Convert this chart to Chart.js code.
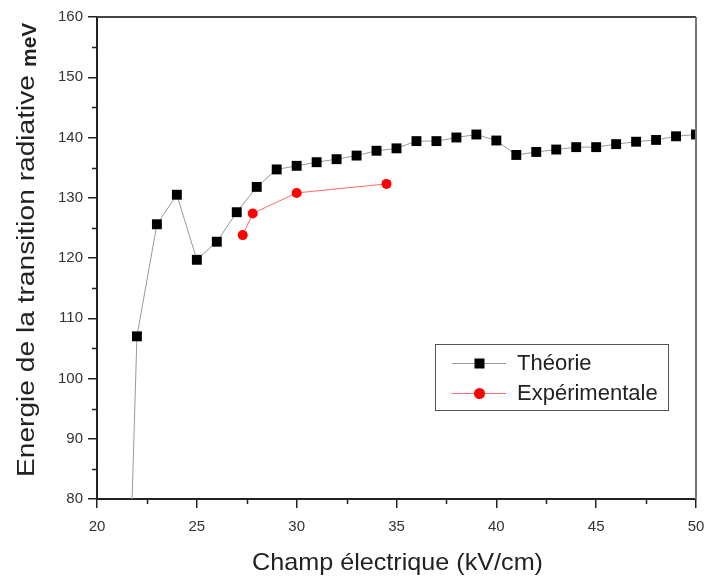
<!DOCTYPE html>
<html>
<head>
<meta charset="utf-8">
<script src="https://cdn.jsdelivr.net/npm/chart.js@4"></script>
<style>
  body { margin: 0; background: #fff; }
  canvas { display: block; }
</style>
</head>
<body>
<canvas id="chart" width="704" height="578"></canvas>
<script>
// Théorie (first point lies below the axis, only its line is visible)
const theoryX = [21, 22, 23, 24, 25, 26, 27, 28, 29, 30, 31, 32, 33, 34, 35, 36, 37, 38, 39, 40, 41, 42, 43, 44, 45, 46, 47, 48, 49, 50]
const theoryY = [-5, 107, 125.6, 130.5, 119.7, 122.7, 127.6, 131.8, 134.7, 135.3, 135.9, 136.4, 137.0, 137.8, 138.2, 139.4, 139.4, 140.0, 140.5, 139.5, 137.1, 137.6, 138.0, 138.4, 138.4, 138.9, 139.3, 139.6, 140.2, 140.5]

// Expérimentale
const expX = [27.3, 27.8, 30, 34.5]
const expY = [123.8, 127.4, 130.8, 132.3]

const xTicks = [20, 25, 30, 35, 40, 45, 50]
const yTicks = [80, 90, 100, 110, 120, 130, 140, 150, 160]
const seriesNames = ['Théorie', 'Expérimentale']

const FONT = '"Liberation Sans", Arial, sans-serif'

const toPoints = (xs, ys) => xs.map((x, i) => ({ x: x, y: ys[i] }))

// fills text, squeezed or stretched horizontally to a given width
const fitText = (ctx, text, x, y, width) => {
  const w = ctx.measureText(text).width
  ctx.save()
  ctx.translate(x, y)
  ctx.scale(width / w, 1)
  ctx.fillText(text, 0, 0)
  ctx.restore()
}

const decorations = {
  id: 'decorations',
  afterDatasetsDraw(chart) {
    const ctx = chart.ctx
    const a = chart.chartArea
    const xs = chart.scales.x
    const ys = chart.scales.y

    ctx.save()
    // top and right frame
    ctx.lineWidth = 2
    ctx.strokeStyle = '#444'
    ctx.beginPath()
    ctx.moveTo(a.left, a.top)
    ctx.lineTo(a.right, a.top)
    ctx.stroke()
    ctx.strokeStyle = '#777'
    ctx.beginPath()
    ctx.moveTo(a.right, a.top)
    ctx.lineTo(a.right, a.bottom)
    ctx.stroke()

    // minor ticks
    ctx.strokeStyle = '#222'
    ctx.lineWidth = 1.5
    ctx.beginPath()
    for (let v = 85; v < 160; v += 10) {
      const p = Math.round(ys.getPixelForValue(v)) + 0.5
      ctx.moveTo(a.left, p)
      ctx.lineTo(a.left - 5, p)
    }
    for (let v = 22.5; v < 50; v += 5) {
      const p = Math.round(xs.getPixelForValue(v)) + 0.5
      ctx.moveTo(p, a.bottom)
      ctx.lineTo(p, a.bottom + 5)
    }
    ctx.stroke()

    // legend box
    const bx = 435.5, by = 344.5, bw = 233, bh = 66
    ctx.fillStyle = '#fff'
    ctx.fillRect(bx, by, bw, bh)
    ctx.strokeStyle = '#555'
    ctx.lineWidth = 1
    ctx.strokeRect(bx, by, bw, bh)

    const rows = [363, 393]
    chart.data.datasets.forEach((ds, i) => {
      const y = rows[i]
      ctx.strokeStyle = ds.borderColor
      ctx.lineWidth = 1
      ctx.beginPath()
      ctx.moveTo(452, y + 0.5)
      ctx.lineTo(506, y + 0.5)
      ctx.stroke()
      ctx.fillStyle = ds.pointBackgroundColor
      if (i === 0) {
        ctx.fillRect(474.5, y - 4.5, 10, 10)
      } else {
        ctx.beginPath()
        ctx.arc(479.5, y + 0.5, 5.5, 0, Math.PI * 2)
        ctx.fill()
      }
      ctx.fillStyle = '#222'
      ctx.font = '22px ' + FONT
      ctx.textBaseline = 'middle'
      ctx.textAlign = 'left'
      ctx.fillText(seriesNames[i], 517, y + 1)
    })

    // axis titles
    ctx.fillStyle = '#222'
    ctx.textBaseline = 'alphabetic'
    ctx.textAlign = 'left'
    ctx.font = '24px ' + FONT
    fitText(ctx, 'Champ électrique (kV/cm)', 252, 570, 291)

    ctx.save()
    ctx.translate(34, 477)
    ctx.rotate(-Math.PI / 2)
    ctx.font = '23px ' + FONT
    fitText(ctx, 'Energie de la transition radiative', 0, 0, 402)
    ctx.font = 'bold 21px ' + FONT
    ctx.fillText('meV', 410, 2)
    ctx.restore()

    ctx.restore()
  }
}

const data = {
  datasets: [{
    label: seriesNames[0],
    data: toPoints(theoryX, theoryY),
    showLine: true,
    borderColor: '#9a9a9a',
    borderWidth: 1,
    pointStyle: 'rect',
    pointRadius: 7,
    pointBackgroundColor: '#000',
    pointBorderColor: '#000',
    pointBorderWidth: 0
  }, {
    label: seriesNames[1],
    data: toPoints(expX, expY),
    showLine: true,
    borderColor: '#ff6a6a',
    borderWidth: 1,
    pointStyle: 'circle',
    pointRadius: 5,
    pointBackgroundColor: '#ff0000',
    pointBorderColor: '#ff0000',
    pointBorderWidth: 0
  }]
}

const ctx = document.getElementById('chart').getContext('2d')

new Chart(ctx, {
  type: 'scatter',
  data: data,
  plugins: [decorations],
  options: {
    responsive: false,
    animation: false,
    layout: { padding: { top: 17, right: 8, left: 0, bottom: 0 } },
    plugins: {
      legend: { display: false },
      tooltip: { enabled: false }
    },
    scales: {
      x: {
        type: 'linear',
        min: 20,
        max: 50,
        afterFit: scale => {
          scale.height = 79
          scale.paddingLeft = 0
          scale.paddingRight = 0
        },
        afterBuildTicks: scale => { scale.ticks = xTicks.map(v => ({ value: v })) },
        border: { display: true, color: '#222', width: 2 },
        grid: { drawOnChartArea: false, drawTicks: true, tickLength: 9, color: '#222', lineWidth: 1.5 },
        ticks: { font: { family: FONT, size: 15 }, color: '#333', padding: 10, maxRotation: 0 }
      },
      y: {
        type: 'linear',
        min: 80,
        max: 160,
        afterFit: scale => {
          scale.width = 97
          scale.paddingTop = 0
          scale.paddingBottom = 0
        },
        afterBuildTicks: scale => { scale.ticks = yTicks.map(v => ({ value: v })) },
        border: { display: true, color: '#222', width: 2 },
        grid: { drawOnChartArea: false, drawTicks: true, tickLength: 9, color: '#222', lineWidth: 1.5 },
        ticks: { font: { family: FONT, size: 15 }, color: '#333', padding: 5 }
      }
    }
  }
})
</script>
</body>
</html>
